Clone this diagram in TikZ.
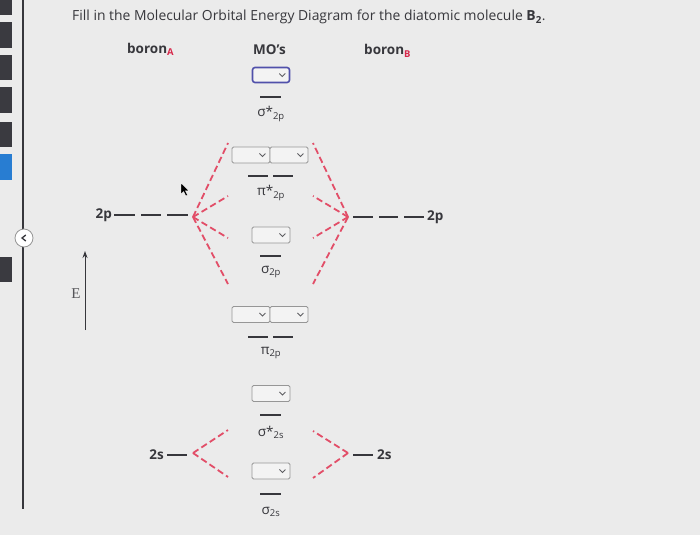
\documentclass[tikz,border=0pt]{standalone}
\usepackage{fontspec}
\usetikzlibrary{arrows.meta}
\setmainfont{Open Sans}
\newfontfamily\serifE{Liberation Serif}
\definecolor{bg}{RGB}{235,235,235}
\definecolor{ink}{RGB}{55,55,60}
\definecolor{corr}{RGB}{226,78,104}
\definecolor{subred}{RGB}{215,40,75}
\definecolor{boxgray}{RGB}{150,150,150}
\definecolor{boxfill}{RGB}{243,243,243}
\definecolor{focus}{RGB}{80,80,170}
\definecolor{sideblk}{RGB}{58,58,64}
\definecolor{sideblue}{RGB}{40,125,210}
\begin{document}
\begin{tikzpicture}[x=1pt,y=-1pt,
  ddbox/.style={draw=boxgray,line width=0.9pt,fill=boxfill,rounded corners=1.5pt,minimum width=38pt,minimum height=16pt,inner sep=0pt},
  focusbox/.style={ddbox,draw=focus,line width=1.6pt,rounded corners=2.5pt,minimum width=37pt,minimum height=15pt},
  chev/.style={draw=ink!80,line width=0.8pt},
  orb/.style={draw=ink,line width=1.8pt},
  corrline/.style={draw=corr,line width=1.8pt,dash pattern=on 6.5pt off 3.5pt},
  lbl/.style={font=\fontsize{13.5}{16}\selectfont,text=ink,inner sep=0pt},
  blbl/.style={font=\bfseries\fontsize{13.5}{16}\selectfont,text=ink,inner sep=0pt},
]
\useasboundingbox (0,0) rectangle (700,535);
\fill[bg] (0,0) rectangle (700,535);
% sidebar
\fill[sideblk] (0,0) rectangle (12,15);
\fill[sideblk] (0,22) rectangle (12,48);
\fill[sideblk] (0,55) rectangle (12,80);
\fill[sideblk] (0,87) rectangle (12,113);
\fill[sideblk] (0,122) rectangle (12,147);
\fill[sideblue] (0,154) rectangle (12,180);
\fill[sideblk] (0,257) rectangle (12,282);
\draw[ink,line width=2.4pt] (23,0) -- (23,509);
\node[circle,draw=boxgray,fill=white,line width=0.8pt,minimum size=18pt,inner sep=0pt] (nav) at (24,238) {};
\draw[ink,line width=1.3pt] ([xshift=1.8pt,yshift=3pt]nav.center) -- ([xshift=-2pt]nav.center) -- ([xshift=1.8pt,yshift=-3pt]nav.center);
% title
\node[anchor=base west,font=\fontsize{13.9}{16}\selectfont,text=ink,inner sep=0pt] (title) at (72,21) {Fill in the Molecular Orbital Energy Diagram for the diatomic molecule \textbf{B\textsubscript{2}}.};
% column heads
\node[blbl,anchor=base west] (hA) at (127,53) {boron\textsubscript{\color{subred}A}};
\node[blbl,anchor=base west] (hMO) at (253,55) {MO's};
\node[blbl,anchor=base west] (hB) at (364,55) {boron\textsubscript{\color{subred}B}};
% energy axis
\coordinate (Ebot) at (85,330);
\coordinate (Etop) at (85,251);
\draw[ink,line width=1pt,-{Stealth[length=7pt,width=5pt]}] (Ebot) -- (Etop);
\node[font=\serifE\fontsize{15}{17}\selectfont,text=ink!85] (E) at (76,294) {E};
% MO: sigma*2p
\node[focusbox] (b1) at (271,75) {};
\draw[chev] ([xshift=-8pt]b1.east) ++(-3,-1.5) -- ++(3,3) -- ++(3,-3);
\coordinate (l1a) at (260,97); \coordinate (l1b) at (281,97);
\draw[orb] (l1a) -- (l1b);
\node[lbl] (t1) at (271,114) {σ*\textsubscript{2p}};
% MO: pi*2p
\node[ddbox] (b2a) at (251,155) {};
\node[ddbox] (b2b) at (289,155) {};
\draw[chev] ([xshift=-8pt]b2a.east) ++(-3,-1.5) -- ++(3,3) -- ++(3,-3);
\draw[chev] ([xshift=-8pt]b2b.east) ++(-3,-1.5) -- ++(3,3) -- ++(3,-3);
\coordinate (l2a) at (248,176); \coordinate (l2b) at (268,176);
\coordinate (l2c) at (273,176); \coordinate (l2d) at (293,176);
\draw[orb] (l2a) -- (l2b); \draw[orb] (l2c) -- (l2d);
\node[lbl] (t2) at (271,193) {π*\textsubscript{2p}};
% MO: sigma2p
\node[ddbox] (b3) at (271,235) {};
\draw[chev] ([xshift=-8pt]b3.east) ++(-3,-1.5) -- ++(3,3) -- ++(3,-3);
\coordinate (l3a) at (260,256); \coordinate (l3b) at (281,256);
\draw[orb] (l3a) -- (l3b);
\node[lbl] (t3) at (271,272) {σ\textsubscript{2p}};
% MO: pi2p
\node[ddbox] (b4a) at (251,314.5) {};
\node[ddbox] (b4b) at (289,314.5) {};
\draw[chev] ([xshift=-8pt]b4a.east) ++(-3,-1.5) -- ++(3,3) -- ++(3,-3);
\draw[chev] ([xshift=-8pt]b4b.east) ++(-3,-1.5) -- ++(3,3) -- ++(3,-3);
\coordinate (l4a) at (248,337); \coordinate (l4b) at (268,337);
\coordinate (l4c) at (273,337); \coordinate (l4d) at (293,337);
\draw[orb] (l4a) -- (l4b); \draw[orb] (l4c) -- (l4d);
\node[lbl] (t4) at (271,353) {π\textsubscript{2p}};
% MO: sigma*2s
\node[ddbox] (b5) at (271,393.5) {};
\draw[chev] ([xshift=-8pt]b5.east) ++(-3,-1.5) -- ++(3,3) -- ++(3,-3);
\coordinate (l5a) at (260,415); \coordinate (l5b) at (281,415);
\draw[orb] (l5a) -- (l5b);
\node[lbl] (t5) at (271,432) {σ*\textsubscript{2s}};
% MO: sigma2s
\node[ddbox] (b6) at (271,471) {};
\draw[chev] ([xshift=-8pt]b6.east) ++(-3,-1.5) -- ++(3,3) -- ++(3,-3);
\coordinate (l6a) at (260,494); \coordinate (l6b) at (281,494);
\draw[orb] (l6a) -- (l6b);
\node[lbl] (t6) at (271,512) {σ\textsubscript{2s}};
% atomic 2p left
\node[blbl,anchor=east] (p2L) at (112,215) {2p};
\coordinate (pL1) at (114,215); \coordinate (pL2) at (135,215);
\coordinate (pL3) at (141,215); \coordinate (pL4) at (161,215);
\coordinate (pL5) at (167,215); \coordinate (pL6) at (188,215);
\draw[orb] (pL1) -- (pL2); \draw[orb] (pL3) -- (pL4); \draw[orb] (pL5) -- (pL6);
% atomic 2p right
\node[blbl,anchor=west] (p2R) at (427,217) {2p};
\coordinate (pR1) at (353,217); \coordinate (pR2) at (373,217);
\coordinate (pR3) at (379,217); \coordinate (pR4) at (398,217);
\coordinate (pR5) at (404,217); \coordinate (pR6) at (424,217);
\draw[orb] (pR1) -- (pR2); \draw[orb] (pR3) -- (pR4); \draw[orb] (pR5) -- (pR6);
% atomic 2s
\node[blbl,anchor=east] (s2L) at (164,455) {2s};
\coordinate (sL1) at (167,455); \coordinate (sL2) at (187,455);
\draw[orb] (sL1) -- (sL2);
\node[blbl,anchor=west] (s2R) at (377,455) {2s};
\coordinate (sR1) at (353,455); \coordinate (sR2) at (373,455);
\draw[orb] (sR1) -- (sR2);
% correlation lines 2p
\coordinate (apL) at (193,217);
\coordinate (apR) at (348,217);
\coordinate (eL1) at (228,143); \coordinate (eL2) at (228,196);
\coordinate (eL3) at (228,238); \coordinate (eL4) at (228,284);
\coordinate (eR1) at (313,143); \coordinate (eR2) at (313,196);
\coordinate (eR3) at (313,238); \coordinate (eR4) at (313,284);
\foreach \e in {eL1,eL2,eL3,eL4} \draw[corrline] (apL) -- (\e);
\foreach \e in {eR1,eR2,eR3,eR4} \draw[corrline] (apR) -- (\e);
% correlation lines 2s
\coordinate (asL) at (193,453);
\coordinate (asR) at (348,453);
\coordinate (fL1) at (228,430); \coordinate (fL2) at (228,477);
\coordinate (fR1) at (313,431); \coordinate (fR2) at (313,478);
\foreach \e in {fL1,fL2} \draw[corrline] (asL) -- (\e);
\foreach \e in {fR1,fR2} \draw[corrline] (asR) -- (\e);
% mouse pointer
\coordinate (cur) at (181,183);
\fill[black,draw=white,line width=0.4pt] (cur) -- ++(0,11) -- ++(2.6,-2.4) -- ++(2.2,4.4) -- ++(1.8,-0.9) -- ++(-2.1,-4.2) -- ++(3.6,0) -- cycle;
\end{tikzpicture}
\end{document}
